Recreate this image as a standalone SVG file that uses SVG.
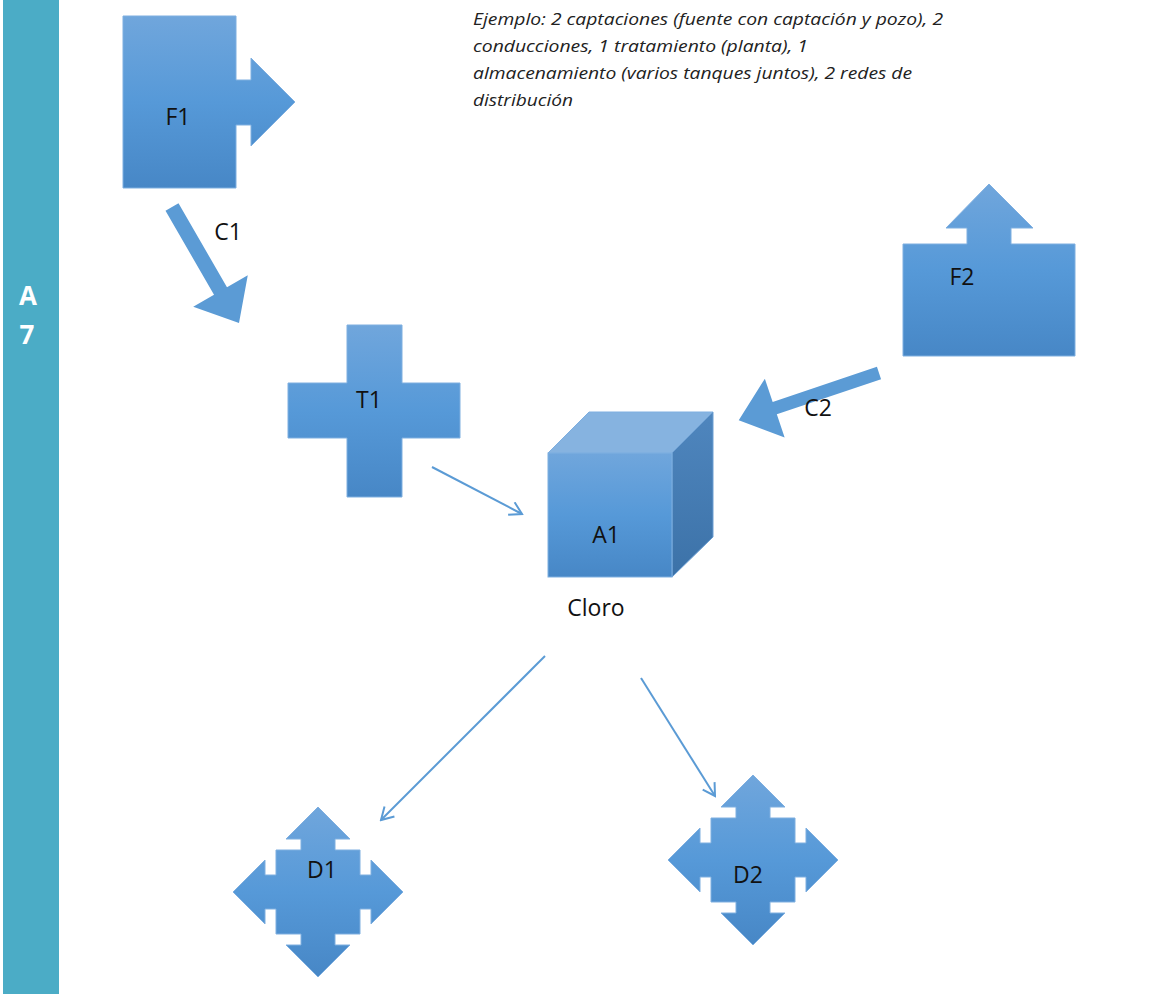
<svg xmlns="http://www.w3.org/2000/svg" width="1165" height="994" viewBox="0 0 1165 994">
<style>
.shape{fill:url(#g);stroke:#7FAFE0;stroke-width:1}
.lbl{font-family:"Open Sans","Liberation Sans",sans-serif;font-size:23px;fill:#111}
.note{font-family:"Open Sans","Liberation Sans",sans-serif;font-size:16px;font-style:italic;fill:#222}
.bar{font-family:"Open Sans","Liberation Sans",sans-serif;font-size:26px;font-weight:bold;fill:#fff}
.thin{fill:none;stroke:#5B9BD5;stroke-width:2;marker-end:url(#ah)}
.thick{fill:#5B9BD5}
</style>
<defs>
<linearGradient id="g" x1="0" y1="0" x2="0" y2="1">
<stop offset="0" stop-color="#70A6DC"/>
<stop offset="0.5" stop-color="#5699D8"/>
<stop offset="1" stop-color="#4787C6"/>
</linearGradient>
<linearGradient id="gr" x1="0" y1="0" x2="0" y2="1">
<stop offset="0" stop-color="#4F86BE"/>
<stop offset="1" stop-color="#3C72A8"/>
</linearGradient>
<marker id="ah" viewBox="0 0 16 16" refX="14" refY="8" markerWidth="16" markerHeight="16" markerUnits="userSpaceOnUse" orient="auto">
<path d="M2,1 L14,8 L2,15" fill="none" stroke="#5B9BD5" stroke-width="2"/>
</marker>
</defs>
<rect width="1165" height="994" fill="#fff"/>
<g id="sidebar">
<rect x="3" y="0" width="56" height="994" fill="#4BACC6"/>
<text class="bar" x="28" y="305" text-anchor="middle">A</text>
<text class="bar" x="27" y="344" text-anchor="middle">7</text>
</g>
<g id="note">
<text class="note" x="473" y="25" textLength="470" lengthAdjust="spacingAndGlyphs">Ejemplo: 2 captaciones (fuente con captación y pozo), 2</text>
<text class="note" x="473" y="52" textLength="335" lengthAdjust="spacingAndGlyphs">conducciones, 1 tratamiento (planta), 1</text>
<text class="note" x="473" y="79" textLength="439" lengthAdjust="spacingAndGlyphs">almacenamiento (varios tanques juntos), 2 redes de</text>
<text class="note" x="473" y="106" textLength="100" lengthAdjust="spacingAndGlyphs">distribución</text>
</g>
<g id="F1">
<path class="shape" d="M123,16 H236 V80 H251 V58 L295,102 L251,146 V125 H236 V188 H123 Z"/>
<text class="lbl" x="178" y="125" text-anchor="middle">F1</text>
</g>
<g id="F2">
<path class="shape" d="M903,244 H967 V228 H946 L989,184 L1033,228 H1011 V244 H1075 V356 H903 Z"/>
<text class="lbl" x="962" y="285" text-anchor="middle">F2</text>
</g>
<g id="T1">
<path class="shape" d="M347,325 H402 V383 H460 V438 H402 V497 H347 V438 H288 V383 H347 Z"/>
<text class="lbl" x="369" y="408" text-anchor="middle">T1</text>
</g>
<g id="A1">
<polygon points="548,453 589,412 713,412 672,453" fill="#86B3E0" stroke="#7FAFE0"/>
<polygon points="672,453 713,412 713,537 672,577" fill="url(#gr)" stroke="#6C9FD3"/>
<rect class="shape" x="548" y="453" width="124" height="124"/>
<text class="lbl" x="606" y="543" text-anchor="middle">A1</text>
<text class="lbl" x="596" y="616" text-anchor="middle">Cloro</text>
</g>
<g id="D1" transform="translate(318,892)">
<path class="shape" d="M0,-85 L32,-53 L17,-53 L17,-42 L42,-42 L42,-17 L53,-17 L53,-32 L85,0 L53,32 L53,17 L42,17 L42,42 L17,42 L17,53 L32,53 L0,85 L-32,53 L-17,53 L-17,42 L-42,42 L-42,17 L-53,17 L-53,32 L-85,0 L-53,-32 L-53,-17 L-42,-17 L-42,-42 L-17,-42 L-17,-53 L-32,-53 Z"/>
<text class="lbl" x="4" y="-14" text-anchor="middle">D1</text>
</g>
<g id="D2" transform="translate(753,860)">
<path class="shape" d="M0,-85 L32,-53 L17,-53 L17,-42 L42,-42 L42,-17 L53,-17 L53,-32 L85,0 L53,32 L53,17 L42,17 L42,42 L17,42 L17,53 L32,53 L0,85 L-32,53 L-17,53 L-17,42 L-42,42 L-42,17 L-53,17 L-53,32 L-85,0 L-53,-32 L-53,-17 L-42,-17 L-42,-42 L-17,-42 L-17,-53 L-32,-53 Z"/>
<text class="lbl" x="-5" y="23" text-anchor="middle">D2</text>
</g>
<g id="connectors">
<g id="C1">
<polygon class="thick" transform="translate(172,207) rotate(60)" points="0,-7.5 97,-7.5 97,-31.5 134,0 97,31.5 97,7.5 0,7.5"/>
<text class="lbl" x="228" y="240" text-anchor="middle">C1</text>
</g>
<g id="C2">
<polygon class="thick" transform="translate(879,373) rotate(161.4)" points="0,-6.5 110,-6.5 110,-31 148,0 110,31 110,6.5 0,6.5"/>
<text class="lbl" x="818" y="416" text-anchor="middle">C2</text>
</g>
<line class="thin" x1="432" y1="467" x2="522" y2="514"/>
<line class="thin" x1="545" y1="656" x2="381" y2="820"/>
<line class="thin" x1="641" y1="678" x2="715" y2="796"/>
</g>
</svg>
